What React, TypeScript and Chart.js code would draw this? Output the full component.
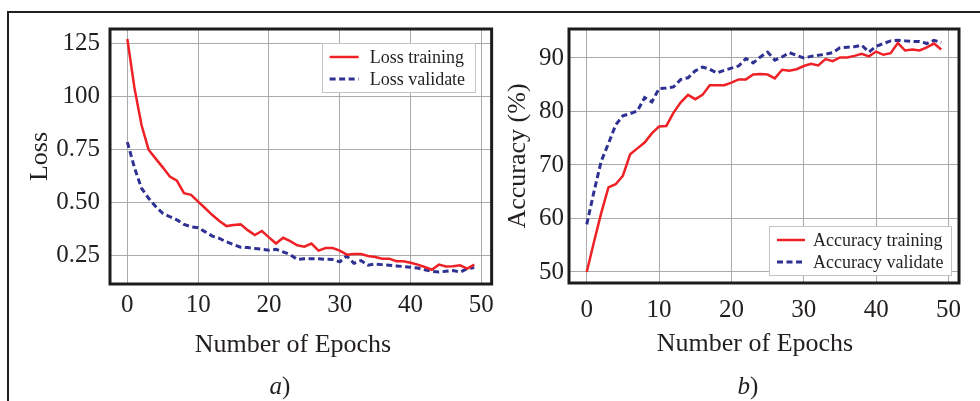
import React, { useEffect, useRef } from "react";
import { Chart, registerables } from "chart.js";

Chart.register(...registerables);

// ---------- data ----------
const epochs = [
  0, 1, 2, 3, 4, 5, 6, 7, 8, 9, 10, 11, 12, 13, 14, 15, 16, 17, 18, 19, 20, 21, 22, 23, 24,
  25, 26, 27, 28, 29, 30, 31, 32, 33, 34, 35, 36, 37, 38, 39, 40, 41, 42, 43, 44, 45, 46, 47, 48, 49,
];

const lossTraining = [
  1.269, 1.04, 0.865, 0.749, 0.707, 0.666, 0.623, 0.603, 0.545, 0.537,
  0.505, 0.474, 0.442, 0.414, 0.39, 0.395, 0.398, 0.371, 0.348, 0.367,
  0.337, 0.308, 0.335, 0.319, 0.3, 0.293, 0.308, 0.275, 0.287, 0.287,
  0.275, 0.256, 0.259, 0.259, 0.25, 0.245, 0.237, 0.237, 0.225, 0.225,
  0.218, 0.209, 0.198, 0.185, 0.209, 0.2, 0.201, 0.206, 0.19, 0.209,
];

const lossValidate = [
  0.785, 0.665, 0.568, 0.521, 0.482, 0.45, 0.434, 0.419, 0.398, 0.387,
  0.382, 0.363, 0.343, 0.332, 0.316, 0.303, 0.291, 0.289, 0.285, 0.281,
  0.277, 0.281, 0.269, 0.256, 0.233, 0.237, 0.237, 0.237, 0.234, 0.233,
  0.222, 0.25, 0.215, 0.228, 0.206, 0.212, 0.209, 0.206, 0.203, 0.2,
  0.197, 0.193, 0.185, 0.178, 0.174, 0.178, 0.181, 0.174, 0.19, 0.195,
];

const accuracyTraining = [
  50.0, 55.6, 61.0, 65.8, 66.4, 68.0, 72.0, 73.1, 74.2, 75.9,
  77.2, 77.3, 79.8, 81.7, 83.1, 82.3, 83.1, 84.9, 84.9, 84.9,
  85.4, 86.0, 86.0, 86.9, 87.0, 86.9, 86.2, 87.8, 87.6, 87.9,
  88.5, 88.9, 88.6, 89.8, 89.4, 90.1, 90.1, 90.4, 90.8, 90.3,
  91.2, 90.6, 90.9, 92.8, 91.4, 91.6, 91.4, 92.0, 92.7, 91.6,
];

const accuracyValidate = [
  58.9, 65.0, 70.7, 74.0, 77.5, 79.2, 79.6, 80.1, 82.6, 81.8,
  84.3, 84.4, 84.6, 86.0, 86.3, 87.6, 88.3, 87.9, 87.2, 87.7,
  88.1, 88.5, 89.9, 89.1, 90.2, 91.1, 89.6, 90.2, 91.0, 90.5,
  90.0, 90.3, 90.5, 90.7, 91.0, 91.9, 92.0, 92.1, 92.4, 91.1,
  92.2, 92.7, 93.2, 93.3, 93.2, 93.1, 93.1, 92.7, 93.3, 92.9,
];

const xTickValues = [0, 10, 20, 30, 40, 50];
const lossTickValues = [0.25, 0.5, 0.75, 1.0, 1.25];
const lossTickLabels = ["0.25", "0.50", "0.75", "100", "125"];
const accTickValues = [50, 60, 70, 80, 90];
const accTickLabels = ["50", "60", "70", "80", "90"];

// ---------- styles ----------
const FONT = '"Liberation Serif", "Times New Roman", serif';
const TEXT = "#231f20";
const RED = "#ee2226";
const BLUE = "#2e3192";
const GRID = "#ababab";

const framePlugin = {
  id: "boxLegend",
  afterDraw(chart: any, _args: any, opts: any) {
    const { ctx, chartArea: a } = chart;
    ctx.save();
    // axes frame
    ctx.strokeStyle = "#1c1c1c";
    ctx.lineWidth = 3;
    ctx.setLineDash([]);
    ctx.strokeRect(a.left, a.top, a.right - a.left, a.bottom - a.top);
    // legend box
    const w = opts.w;
    const h = opts.h;
    const x = a.right - opts.offX - w;
    const y = opts.corner === "tr" ? a.top + opts.offY : a.bottom - opts.offY - h;
    ctx.fillStyle = "#ffffff";
    ctx.fillRect(x, y, w, h);
    ctx.strokeStyle = "#c4c4c4";
    ctx.lineWidth = 1;
    ctx.strokeRect(Math.round(x) + 0.5, Math.round(y) + 0.5, w, h);
    ctx.font = `${opts.fontSize}px ${FONT}`;
    ctx.textBaseline = "middle";
    ctx.textAlign = "left";
    chart.data.datasets.forEach((ds: any, i: number) => {
      const ry = y + opts.rows[i];
      ctx.strokeStyle = ds.borderColor;
      ctx.lineWidth = ds.borderWidth;
      ctx.setLineDash(ds.borderDash || []);
      ctx.beginPath();
      ctx.moveTo(x + opts.sampleStart, ry);
      ctx.lineTo(x + opts.sampleStart + opts.sampleLen, ry);
      ctx.stroke();
      ctx.setLineDash([]);
      ctx.fillStyle = TEXT;
      ctx.fillText(ds.label, x + opts.textStart, ry + 1);
    });
    ctx.restore();
  },
};

function makeConfig(p: any): any {
  return {
    type: "line",
    data: {
      datasets: [
        {
          label: p.labels[0],
          data: p.series[0].map((v: number, i: number) => ({ x: epochs[i], y: v })),
          borderColor: RED,
          borderWidth: 2.5,
          pointRadius: 0,
          tension: 0,
          fill: false,
        },
        {
          label: p.labels[1],
          data: p.series[1].map((v: number, i: number) => ({ x: epochs[i], y: v })),
          borderColor: BLUE,
          borderWidth: 3,
          borderDash: [6, 3.5],
          pointRadius: 0,
          tension: 0,
          fill: false,
        },
      ],
    },
    options: {
      animation: false,
      responsive: false,
      maintainAspectRatio: false,
      layout: { padding: { top: 29, left: 0, right: p.padRight, bottom: 0 } },
      plugins: {
        legend: { display: false },
        tooltip: { enabled: false },
        boxLegend: p.legend,
      },
      scales: {
        x: {
          type: "linear",
          min: -2.45,
          max: 51.45,
          afterBuildTicks: (s: any) => {
            s.ticks = xTickValues.map((v) => ({ value: v }));
          },
          afterFit: (s: any) => {
            s.height = p.xHeight;
          },
          grid: { color: GRID, lineWidth: 1, drawTicks: false },
          border: { display: false },
          ticks: {
            color: TEXT,
            padding: p.xPad,
            maxRotation: 0,
            font: { family: FONT, size: 25 },
            callback: (v: any) => String(v),
          },
        },
        y: {
          type: "linear",
          min: p.yMin,
          max: p.yMax,
          afterBuildTicks: (s: any) => {
            s.ticks = p.yTicks.map((v: number) => ({ value: v }));
          },
          afterFit: (s: any) => {
            s.width = p.yWidth;
          },
          grid: { color: GRID, lineWidth: 1, drawTicks: false },
          border: { display: false },
          ticks: {
            color: TEXT,
            padding: p.yPad,
            font: { family: FONT, size: 25 },
            callback: (_v: any, i: number) => p.yLabels[i],
          },
          title: {
            display: true,
            text: p.yTitle,
            color: TEXT,
            font: { family: FONT, size: 26 },
            padding: { top: p.yTitlePad, bottom: 0 },
          },
        },
      },
    },
    plugins: [framePlugin],
  };
}

export default function App() {
  const leftRef = useRef<HTMLCanvasElement>(null);
  const rightRef = useRef<HTMLCanvasElement>(null);

  useEffect(() => {
    const left = new Chart(
      leftRef.current as HTMLCanvasElement,
      makeConfig({
        labels: ["Loss training", "Loss validate"],
        series: [lossTraining, lossValidate],
        padRight: 5,
        xHeight: 117,
        xPad: 6,
        yMin: 0.118,
        yMax: 1.316,
        yTicks: lossTickValues,
        yLabels: lossTickLabels,
        yWidth: 110,
        yPad: 10,
        yTitle: "Loss",
        yTitlePad: 24.4,
        legend: {
          corner: "tr",
          offX: 17,
          offY: 14,
          w: 153,
          h: 49,
          sampleStart: 8,
          sampleLen: 29,
          textStart: 48,
          rows: [14, 36],
          fontSize: 18,
        },
      })
    );
    const right = new Chart(
      rightRef.current as HTMLCanvasElement,
      makeConfig({
        labels: ["Accuracy training", "Accuracy validate"],
        series: [accuracyTraining, accuracyValidate],
        padRight: 21,
        xHeight: 118,
        xPad: 12,
        yMin: 47.94,
        yMax: 95.42,
        yTicks: accTickValues,
        yLabels: accTickLabels,
        yWidth: 79,
        yPad: 5,
        yTitle: "Accuracy (%)",
        yTitlePad: 12.4,
        legend: {
          corner: "br",
          offX: 8,
          offY: 8,
          w: 182,
          h: 49,
          sampleStart: 8,
          sampleLen: 28,
          textStart: 44,
          rows: [14, 36],
          fontSize: 18,
        },
      })
    );
    return () => {
      left.destroy();
      right.destroy();
    };
  }, []);

  const centered = (cx: number, cy: number, size: number): React.CSSProperties => ({
    position: "absolute",
    left: cx,
    top: cy,
    transform: "translate(-50%, -50%)",
    fontSize: size,
    lineHeight: 1,
    whiteSpace: "nowrap",
    fontFamily: FONT,
    color: TEXT,
  });

  return (
    <div
      style={{
        position: "absolute",
        left: 0,
        top: 0,
        width: 980,
        height: 401,
        overflow: "hidden",
        background: "#ffffff",
      }}
    >
      <div
        style={{
          position: "absolute",
          left: 7,
          top: 11,
          width: 990,
          height: 400,
          borderTop: "2px solid #231f20",
          borderLeft: "2px solid #231f20",
        }}
      />
      <canvas
        ref={leftRef}
        width={500}
        height={401}
        style={{ position: "absolute", left: 0, top: 0, width: 500, height: 401 }}
      />
      <canvas
        ref={rightRef}
        width={490}
        height={401}
        style={{ position: "absolute", left: 490, top: 0, width: 490, height: 401 }}
      />
      <div style={centered(293, 344, 26)}>Number of Epochs</div>
      <div style={centered(755, 343, 26)}>Number of Epochs</div>
      <div style={centered(280, 385, 25)}>
        <span style={{ fontStyle: "italic" }}>a</span>)
      </div>
      <div style={centered(748, 385, 25)}>
        <span style={{ fontStyle: "italic" }}>b</span>)
      </div>
    </div>
  );
}
